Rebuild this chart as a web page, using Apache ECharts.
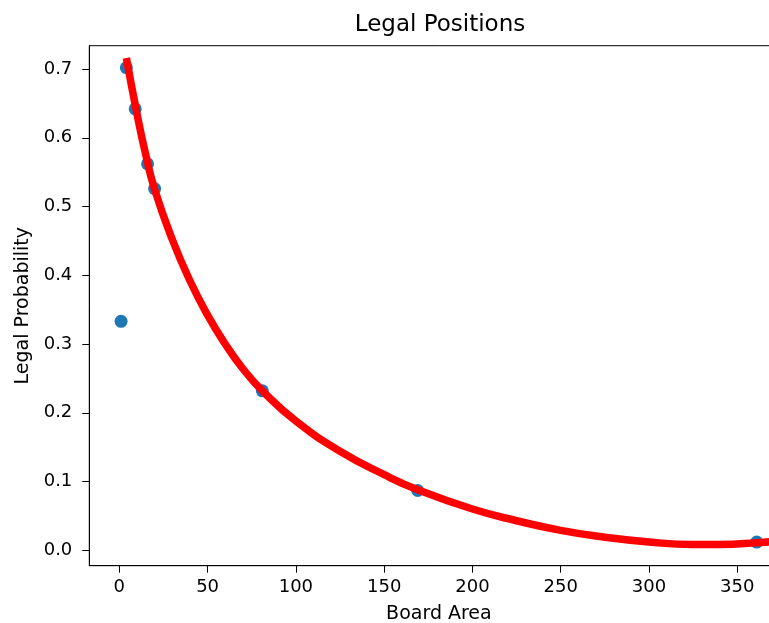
<!DOCTYPE html>
<html>
<head>
<meta charset="utf-8">
<script src="https://cdn.jsdelivr.net/npm/echarts@6/dist/echarts.min.js"></script>
<style>html,body{margin:0;padding:0;background:#fff;width:769px;height:623px;overflow:hidden;}#c{width:789px;height:623px;}</style>
</head>
<body>
<div id="c"></div>
<script>
// Observed data points
const boardArea = [1, 4, 9, 16, 20, 81, 169, 361];
const legalProb = [0.333, 0.702, 0.642, 0.562, 0.526, 0.232, 0.087, 0.012];
// Fitted curve
const fitX = [4, 10, 15, 20, 30, 40, 50, 60, 70, 81, 100, 125, 150, 169, 200, 225, 250, 275, 300, 325, 340, 361, 380];
const fitY = [0.716, 0.635, 0.575, 0.525, 0.452, 0.392, 0.342, 0.3, 0.264, 0.232, 0.188, 0.144, 0.11, 0.088, 0.06, 0.043, 0.029, 0.019, 0.012, 0.0085, 0.0085, 0.011, 0.015];
const xTicks = [0, 50, 100, 150, 200, 250, 300, 350];
const yTicks = [0, 0.1, 0.2, 0.3, 0.4, 0.5, 0.6, 0.7];

const font = 'DejaVu Sans';
const chart = echarts.init(document.getElementById('c'));
chart.setOption({
  animation: false,
  backgroundColor: '#fff',
  title: {
    text: 'Legal Positions', left: 435, top: 9, textAlign: 'center',
    textStyle: {fontFamily: font, fontSize: 23, fontWeight: 'normal', color: '#000'}
  },
  grid: {left: 89.3, top: 45.7, right: 0.5, bottom: 57.3, containLabel: false, outerBoundsMode: 'none',
    show: true, borderColor: '#000', borderWidth: 1, backgroundColor: 'transparent'},
  xAxis: {
    type: 'value', min: -17, max: 379,
    name: 'Board Area', nameLocation: 'middle', nameGap: 39,
    nameTextStyle: {fontFamily: font, fontSize: 19, color: '#000'},
    axisLine: {show: true, onZero: false, lineStyle: {color: '#000', width: 1}},
    axisTick: {show: true, length: 7, customValues: xTicks, lineStyle: {color: '#000'}},
    axisLabel: {customValues: xTicks, fontFamily: font, fontSize: 18, color: '#000', margin: 13},
    splitLine: {show: false}
  },
  yAxis: {
    type: 'value', min: -0.0224, max: 0.7339,
    name: 'Legal Probability', nameLocation: 'middle', nameGap: 57, nameRotate: 90,
    nameTextStyle: {fontFamily: font, fontSize: 19, color: '#000'},
    axisLine: {show: true, onZero: false, lineStyle: {color: '#000', width: 1}},
    axisTick: {show: true, length: 7, customValues: yTicks, lineStyle: {color: '#000'}},
    axisLabel: {customValues: yTicks, fontFamily: font, fontSize: 18, color: '#000', margin: 17,
      formatter: v => v.toFixed(1)},
    splitLine: {show: false}
  },
  series: [
    {
      type: 'scatter', data: boardArea.map((x, i) => [x, legalProb[i]]),
      symbolSize: 13, itemStyle: {color: '#1f77b4', opacity: 1}, z: 2, clip: true
    },
    {
      type: 'line', data: fitX.map((x, i) => [x, fitY[i]]), smooth: 0.5,
      showSymbol: false, lineStyle: {color: '#ff0000', width: 7.5}, z: 3, clip: true
    }
  ]
});
</script>
</body>
</html>
